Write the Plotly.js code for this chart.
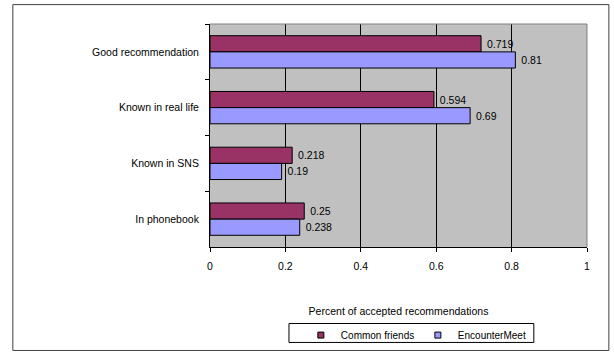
<!DOCTYPE html>
<html>
<head>
<meta charset="utf-8">
<script src="https://cdn.plot.ly/plotly-3.0.1.min.js"></script>
<style>html,body{margin:0;padding:0;background:#fff;}#chart{width:614px;height:352px;}</style>
</head>
<body>
<div id="chart"></div>
<script>
const categories = ["Good recommendation", "Known in real life", "Known in SNS", "In phonebook"];
const commonFriends = [0.719, 0.594, 0.218, 0.25];
const encounterMeet = [0.81, 0.69, 0.19, 0.238];
const seriesNames = ["Common friends", "EncounterMeet"];
const seriesColors = ["#993366", "#9999FF"];
const xTicks = [0, 0.2, 0.4, 0.6, 0.8, 1];

const font = "Liberation Sans, Arial, sans-serif";
const pad = "\u00A0";

const traces = [
  {
    type: "bar", orientation: "h", name: seriesNames[0], showlegend: false,
    y: categories, x: commonFriends,
    text: commonFriends.map(v => pad + v), textposition: "outside",
    textfont: {family: font, size: 10.5, color: "#000"},
    marker: {color: seriesColors[0], line: {color: "#000", width: 1}},
    cliponaxis: false
  },
  {
    type: "bar", orientation: "h", name: seriesNames[1], showlegend: false,
    y: categories, x: encounterMeet,
    text: encounterMeet.map(v => pad + v), textposition: "outside",
    textfont: {family: font, size: 10.5, color: "#000"},
    marker: {color: seriesColors[1], line: {color: "#000", width: 1}},
    cliponaxis: false
  },
  // legend entries (small square swatches, as in the reference)
  {
    type: "scatter", mode: "markers", name: seriesNames[0], x: [null], y: [null],
    marker: {symbol: "square", size: 6, color: seriesColors[0], line: {color: "#000", width: 1}},
    hoverinfo: "skip"
  },
  {
    type: "scatter", mode: "markers", name: seriesNames[1], x: [null], y: [null],
    marker: {symbol: "square", size: 6, color: seriesColors[1], line: {color: "#000", width: 1}},
    hoverinfo: "skip"
  }
];

const layout = {
  width: 614, height: 352,
  margin: {l: 210, r: 27, t: 24, b: 105.3},
  paper_bgcolor: "#fff",
  plot_bgcolor: "#C0C0C0",
  font: {family: font, size: 10.5, color: "#000"},
  barmode: "group",
  bargap: 0.42,
  bargroupgap: 0,
  showlegend: true,
  legend: {
    orientation: "h",
    xref: "container", yref: "container",
    x: 0.49, xanchor: "left", y: 0.048, yanchor: "middle",
    borderwidth: 0, bgcolor: "rgba(0,0,0,0)",
    font: {family: font, size: 10}, traceorder: "normal",
    itemwidth: 30, entrywidth: 72, entrywidthmode: "pixels"
  },
  xaxis: {
    range: [0, 1], tickvals: xTicks, ticktext: xTicks.map(String),
    showgrid: true, gridcolor: "#000", gridwidth: 1,
    zeroline: false, showline: true, linecolor: "#000", linewidth: 1,
    ticks: "outside", ticklen: 4, tickcolor: "#000",
    ticklabelstandoff: 5,
    tickfont: {family: font, size: 10.5},
    title: {text: "Percent of accepted recommendations", font: {family: font, size: 10.5}, standoff: 37},
    automargin: false,
    fixedrange: true
  },
  yaxis: {
    type: "category", autorange: "reversed",
    showgrid: false, zeroline: false, showline: true, linecolor: "#000", linewidth: 1,
    ticks: "outside", ticklen: 4, tickcolor: "#000", tickson: "boundaries",
    ticklabelstandoff: 8,
    tickfont: {family: font, size: 10.5},
    automargin: false,
    fixedrange: true
  },
  shapes: [
    {type: "line", xref: "paper", yref: "paper", x0: 0, x1: 1, y0: 1, y1: 1, line: {color: "#808080", width: 1}},
    {type: "line", xref: "paper", yref: "paper", x0: 1, x1: 1, y0: 0, y1: 1, line: {color: "#808080", width: 1}},
    {type: "rect", xref: "paper", yref: "paper", x0: -0.523, x1: 1.058, y0: -0.464, y1: 1.087, line: {color: "#404040", width: 1}},
    {type: "rect", xref: "paper", yref: "paper", x0: 0.2095, x1: 0.859, y0: -0.428, y1: -0.343, line: {color: "#000", width: 1}}
  ]
};

Plotly.newPlot("chart", traces, layout, {displayModeBar: false, staticPlot: true});
</script>
</body>
</html>
